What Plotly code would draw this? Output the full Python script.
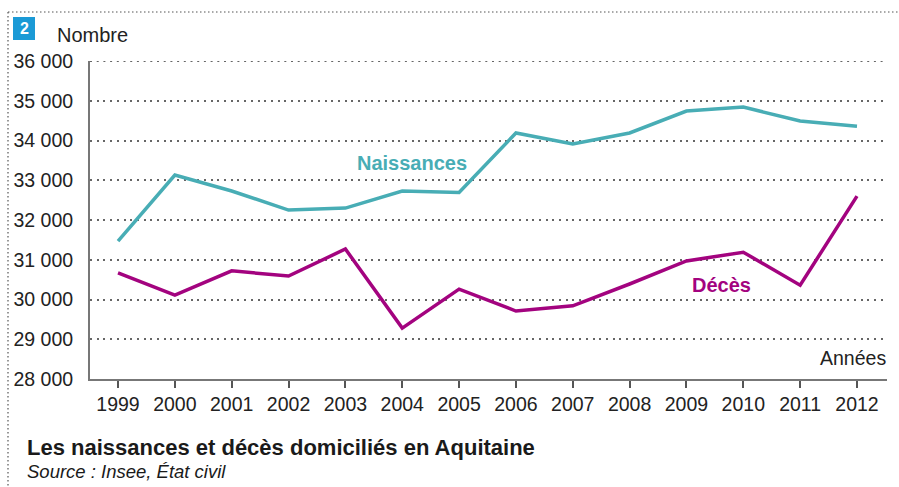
import plotly.graph_objects as go

years = list(range(1999, 2013))
naissances = [31470, 33130, 32730, 32250, 32300, 32730, 32690, 34190, 33910, 34190, 34740, 34840, 34490, 34360]
deces = [30670, 30110, 30720, 30590, 31270, 29280, 30260, 29710, 29840, 30390, 30970, 31190, 30360, 32600]
y_ticks = [28000, 29000, 30000, 31000, 32000, 33000, 34000, 35000, 36000]
y_tick_labels = ["28 000", "29 000", "30 000", "31 000", "32 000", "33 000", "34 000", "35 000", "36 000"]

TEAL = "#48adb5"
MAGENTA = "#a3037f"
FONT = "Liberation Sans, Arial, sans-serif"

W, H = 899, 487
ML, MR, MT, MB = 90, 12, 61, 108
PW = W - ML - MR
PH = H - MT - MB

def px(x):
    return (x - ML) / PW

def py(y):
    return 1 - (y - MT) / PH

fig = go.Figure()
fig.add_trace(go.Scatter(x=years, y=naissances, mode="lines", line=dict(color=TEAL, width=3.5), hoverinfo="skip"))
fig.add_trace(go.Scatter(x=years, y=deces, mode="lines", line=dict(color=MAGENTA, width=3.5), hoverinfo="skip"))

fig.update_layout(
    width=W, height=H,
    margin=dict(l=ML, r=MR, t=MT, b=MB),
    paper_bgcolor="white", plot_bgcolor="white",
    showlegend=False,
    font=dict(family=FONT, size=19.5, color="#222222"),
)
fig.update_xaxes(
    range=[1998.507, 2012.528], tickvals=years, ticktext=[str(y) for y in years],
    showgrid=False, zeroline=False,
    showline=True, linecolor="#777777", linewidth=2,
    ticks="outside", ticklen=7, tickwidth=1.5, tickcolor="#555555",
    tickfont=dict(size=19.5, color="#222222"),
)
fig.update_yaxes(
    range=[28000, 36000], tickvals=y_ticks, ticktext=y_tick_labels,
    showgrid=True, gridcolor="#666666", gridwidth=2, griddash="2px,4.7px",
    zeroline=False, showline=True, linecolor="#777777", linewidth=2,
    ticks="", ticklabelstandoff=11,
    tickfont=dict(size=19.5, color="#222222"),
)

annotations = [
    dict(x=px(55), y=py(35), xref="paper", yref="paper", text="Nombre", showarrow=False,
         xanchor="left", yanchor="middle", font=dict(size=20, color="#222222")),
    dict(x=px(24), y=py(28.5), xref="paper", yref="paper", text="<b>2</b>", showarrow=False,
         xanchor="center", yanchor="middle", font=dict(size=16, color="white")),
    dict(x=px(888), y=py(358), xref="paper", yref="paper", text="Années", showarrow=False,
         xanchor="right", yanchor="middle", font=dict(size=19.5, color="#222222")),
    dict(x=px(412), y=py(163), xref="paper", yref="paper", text="<b>Naissances</b>", showarrow=False,
         xanchor="center", yanchor="middle", font=dict(size=20, color=TEAL)),
    dict(x=px(721), y=py(285), xref="paper", yref="paper", text="<b>Décès</b>", showarrow=False,
         xanchor="center", yanchor="middle", font=dict(size=20, color=MAGENTA)),
    dict(x=px(25), y=py(447), xref="paper", yref="paper",
         text="<b>Les naissances et décès domiciliés en Aquitaine</b>", showarrow=False,
         xanchor="left", yanchor="middle", font=dict(size=22, color="#1a1a1a")),
    dict(x=px(25), y=py(471), xref="paper", yref="paper",
         text="<i>Source : Insee, État civil</i>", showarrow=False,
         xanchor="left", yanchor="middle", font=dict(size=18.5, color="#1a1a1a")),
]
fig.update_layout(annotations=annotations)

shapes = [
    dict(type="rect", xref="paper", yref="paper", x0=px(13), x1=px(35), y0=py(17), y1=py(40),
         fillcolor="#1b9ad6", line=dict(width=0)),
    dict(type="line", xref="paper", yref="paper", x0=px(8), x1=px(899), y0=py(12), y1=py(12),
         line=dict(color="#555555", width=1.2, dash="1.5px,2.5px")),
    dict(type="line", xref="paper", yref="paper", x0=px(8), x1=px(8), y0=py(12), y1=py(487),
         line=dict(color="#555555", width=1.2, dash="1.5px,2.5px")),
    dict(type="line", xref="paper", yref="y", x0=0, x1=1, y0=y_ticks[-1], y1=y_ticks[-1],
         line=dict(color="#666666", width=2, dash="2px,4.7px"), layer="below"),
]
fig.update_layout(shapes=shapes)

fig.write_html("out.html", config={"displayModeBar": False},
               post_script="document.body.style.margin='0';document.body.style.padding='0';")
